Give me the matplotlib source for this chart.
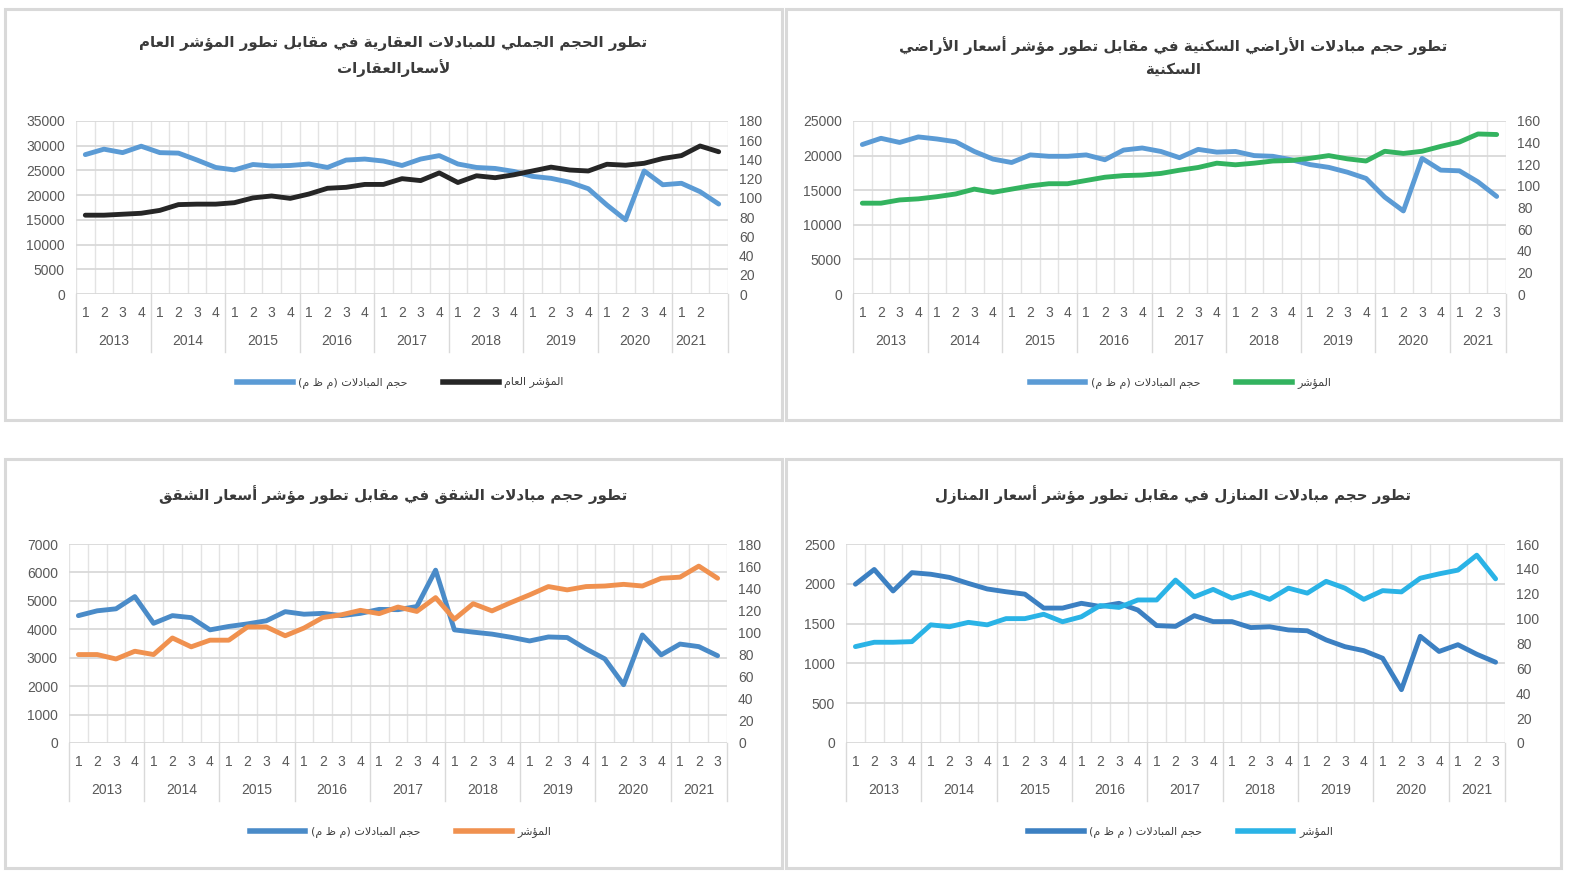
import matplotlib
matplotlib.use('Agg')
import matplotlib.pyplot as plt
import matplotlib.transforms as mtransforms
from matplotlib import font_manager
from matplotlib.lines import Line2D
from matplotlib.patches import Rectangle

W, H = 1572, 876

years = ['2013', '2014', '2015', '2016', '2017', '2018', '2019', '2020', '2021']
quarters = ['1', '2', '3', '4'] * 8 + ['1', '2', '3']
quarters_p1 = ['1', '2', '3', '4'] * 8 + ['1', '2', '']

# panel 1 : all real estate
total_volume = [28200, 29300, 28600, 29900, 28600, 28500, 27100, 25600, 25100, 26200, 25900, 26000,
                26300, 25600, 27100, 27300, 26900, 26000, 27300, 28000, 26300, 25600, 25400, 24800,
                23800, 23400, 22600, 21300, 18000, 15000, 24900, 22100, 22400, 20700, 18200]
total_index = [82, 82, 83, 84, 87, 93, 93.5, 93.5, 95, 100, 102, 99.5, 104, 110, 111, 114, 114, 120,
               118, 126, 116, 123, 121, 124, 128, 132, 129, 128, 135, 134, 136, 141, 144, 154, 148]

# panel 2 : residential land
land_volume = [21600, 22500, 21900, 22700, 22400, 22000, 20600, 19500, 19000, 20100, 19900, 19900,
               20100, 19400, 20800, 21100, 20600, 19700, 20900, 20500, 20600, 20000, 19900, 19400,
               18700, 18300, 17600, 16700, 14000, 12000, 19600, 17900, 17800, 16200, 14100]
land_index = [84, 84, 87, 88, 90, 92.5, 97, 94, 97, 100, 102, 102, 105, 108, 109.5, 110, 111.5, 114.5,
              117, 121, 119.5, 121, 123, 123.5, 125.5, 128, 125, 123, 132, 130, 132, 136.5, 140.5, 148, 147.5]

# panel 3 : flats
flat_volume = [4480, 4650, 4720, 5150, 4210, 4480, 4410, 3980, 4100, 4190, 4300, 4620, 4530, 4560,
               4480, 4560, 4700, 4690, 4800, 6080, 3980, 3900, 3830, 3720, 3590, 3730, 3710, 3310,
               2960, 2050, 3800, 3100, 3480, 3390, 3070]
flat_index = [80, 80, 76, 83, 80, 95, 87, 93, 93, 105, 105, 97, 104, 113.5, 116, 120, 117, 123, 119,
              131.5, 112, 126, 119.5, 127, 134, 141.5, 138.5, 141.5, 142, 143.5, 142, 149, 150, 160, 149]

# panel 4 : houses
house_volume = [1995, 2180, 1910, 2140, 2120, 2080, 2005, 1935, 1900, 1870, 1695, 1695, 1755, 1715,
                1755, 1670, 1475, 1465, 1600, 1525, 1525, 1450, 1460, 1420, 1410, 1295, 1210, 1160,
                1065, 670, 1340, 1150, 1235, 1115, 1015]
house_index = [77.5, 81, 81, 81.5, 95, 93.5, 97, 95, 100, 100, 103.5, 97.5, 101.5, 110.5, 109, 115,
               115, 131, 117.5, 123.5, 116.5, 121, 115.5, 124.5, 120.5, 130, 124.5, 115.5, 122.5,
               121.5, 132.5, 136, 139, 151, 132]

titles = [
    ['تطور الحجم الجملي للمبادلات العقارية في مقابل تطور المؤشر العام', 'لأسعارالعقارات'],
    ['تطور حجم مبادلات الأراضي السكنية في مقابل تطور مؤشر أسعار الأراضي', 'السكنية'],
    ['تطور حجم مبادلات الشقق في مقابل تطور مؤشر أسعار الشقق'],
    ['تطور حجم مبادلات المنازل في مقابل تطور مؤشر أسعار المنازل'],
]
vol_labels = ['حجم المبادلات (م ظ م)', 'حجم المبادلات (م ظ م)', 'حجم المبادلات (م ظ م)',
              'حجم المبادلات ( م ظ م)']
idx_labels = ['المؤشر العام', 'المؤشر', 'المؤشر', 'المؤشر']

# --- tiny arabic shaper (matplotlib has no bidi/shaping) ---
_letters = 'ءآأؤإئابةتثجحخدذرزسشصضطظعغفقكلمنهوىي'
_nforms = [1, 2, 2, 2, 2, 4, 2, 4, 2, 4, 4, 4, 4, 4, 2, 2, 2, 2, 4, 4, 4, 4, 4, 4, 4, 4, 4, 4, 4,
           4, 4, 4, 4, 2, 2, 4]
FORMS = {}
code = 0xFE80
for ch, n in zip(_letters, _nforms):
    FORMS[ch] = [chr(code + k) for k in range(n)]
    code += n
LAM_ALEF = {'آ': 0xFEF5, 'أ': 0xFEF7, 'إ': 0xFEF9, 'ا': 0xFEFB}


def ar(text):
    out = []
    n = len(text)
    i = 0
    while i < n:
        c = text[i]
        if c not in FORMS:
            out.append(c)
            i += 1
            continue
        prev = text[i - 1] if i > 0 else ''
        pj = prev in FORMS and len(FORMS[prev]) == 4
        if c == 'ل' and i + 1 < n and text[i + 1] in LAM_ALEF:
            out.append(chr(LAM_ALEF[text[i + 1]] + (1 if pj else 0)))
            i += 2
            continue
        nxt = text[i + 1] if i + 1 < n else ''
        nj = len(FORMS[c]) == 4 and nxt in FORMS
        f = FORMS[c]
        if pj and nj:
            g = f[3]
        elif pj:
            g = f[1] if len(f) > 1 else f[0]
        elif nj:
            g = f[2]
        else:
            g = f[0]
        out.append(g)
        i += 1
    return ''.join(out)[::-1].translate(str.maketrans('()', ')('))


names = {f.name for f in font_manager.fontManager.ttflist}
num_font = 'Liberation Sans Narrow' if 'Liberation Sans Narrow' in names else 'Liberation Sans'
txt_col = '#595959'
grid_col = '#d9d9d9'

fig = plt.figure(figsize=(W / 100, H / 100), dpi=100)


def panel(frame, plot, title, title_y, vol, idx, vmax, vstep, imax, istep, vcol, icol,
          vlab, ilab, qlabels, leg_y):
    fx0, fy0, fx1, fy1 = frame
    fig.patches.append(Rectangle((fx0 / W, 1 - fy1 / H), (fx1 - fx0) / W, (fy1 - fy0) / H,
                                 transform=fig.transFigure, fill=False, ec=grid_col, lw=2.2))
    l, t, r, b = plot
    ax = fig.add_axes([l / W, 1 - b / H, (r - l) / W, (b - t) / H])
    ax2 = ax.twinx()
    h = b - t
    x = list(range(len(vol)))
    ax.set_xlim(-0.5, len(vol) - 0.5)
    ax.set_ylim(0, vmax)
    ax.set_yticks(range(0, vmax + 1, vstep))
    ax2.set_ylim(0, imax)
    ax2.set_yticks(range(0, imax + 1, istep))
    ax.grid(axis='y', color=grid_col, lw=1.3)
    for k in range(len(vol) + 1):
        ax.axvline(k - 0.5, color='#e3e3e3', lw=1, zorder=0)
    ax.set_axisbelow(True)
    for a in (ax, ax2):
        for s in a.spines.values():
            s.set_visible(False)
        a.tick_params(length=0, labelsize=10, labelcolor=txt_col, pad=8)
        for lab in a.get_yticklabels():
            lab.set_fontfamily(num_font)
    ax.set_xticks([])
    ax.plot(x, vol, color=vcol, lw=3.5, solid_capstyle='round', solid_joinstyle='round')
    ax2.plot(x, idx, color=icol, lw=3.5, solid_capstyle='round', solid_joinstyle='round')

    # two level category axis
    tr = mtransforms.blended_transform_factory(ax.transData, ax.transAxes)
    for k, q in enumerate(qlabels):
        ax.text(k, -19 / h, q, transform=tr, ha='center', va='center', fontsize=10,
                color=txt_col, family=num_font)
    for j, yr in enumerate(years):
        slots = [k for k in range(4 * j, min(4 * j + 4, len(qlabels))) if qlabels[k]]
        ax.text(sum(slots) / len(slots), -47 / h, yr, transform=tr, ha='center', va='center',
                fontsize=10, color=txt_col, family=num_font)
    for k in list(range(-1, len(vol), 4)) + [len(vol) - 1]:
        ax.plot([k + 0.5, k + 0.5], [0, -58 / h], transform=tr, color=grid_col, lw=1,
                clip_on=False)

    cx = (fx0 + fx1) / 2
    fig.text(cx / W, 1 - title_y / H, '\n'.join(ar(s) for s in title), ha='center', va='top',
             multialignment='center', fontsize=10.8, fontweight='bold', color='#3a3a3a',
             family='DejaVu Sans', linespacing=1.6)
    handles = [Line2D([], [], color=vcol, lw=4), Line2D([], [], color=icol, lw=4)]
    leg = fig.legend(handles, [ar(vlab), ar(ilab)], loc='center', ncol=2, frameon=False,
                     bbox_to_anchor=((cx + 7) / W, 1 - leg_y / H), handlelength=5.0,
                     columnspacing=3.2, handletextpad=0.5, prop={'family': 'DejaVu Sans', 'size': 8})
    for t_ in leg.get_texts():
        t_.set_color('#404040')


panel((5, 9, 782, 420), (76, 121, 728, 294), titles[0], 36, total_volume, total_index,
      35000, 5000, 180, 20, '#5b9bd5', '#262626', vol_labels[0], idx_labels[0], quarters_p1, 383)
panel((786, 9, 1561, 420), (853, 121, 1506, 294), titles[1], 36, land_volume, land_index,
      25000, 5000, 160, 20, '#5b9bd5', '#33b35f', vol_labels[1], idx_labels[1], quarters, 383)
panel((5, 459, 782, 868), (69, 544, 727, 743), titles[2], 485, flat_volume, flat_index,
      7000, 1000, 180, 20, '#4a8bc8', '#f0914f', vol_labels[2], idx_labels[2], quarters, 832)
panel((786, 459, 1561, 868), (846, 544, 1505, 743), titles[3], 485, house_volume, house_index,
      2500, 500, 160, 20, '#3c80c2', '#2ab3e6', vol_labels[3], idx_labels[3], quarters, 832)

fig.savefig('out.png', dpi=100)
